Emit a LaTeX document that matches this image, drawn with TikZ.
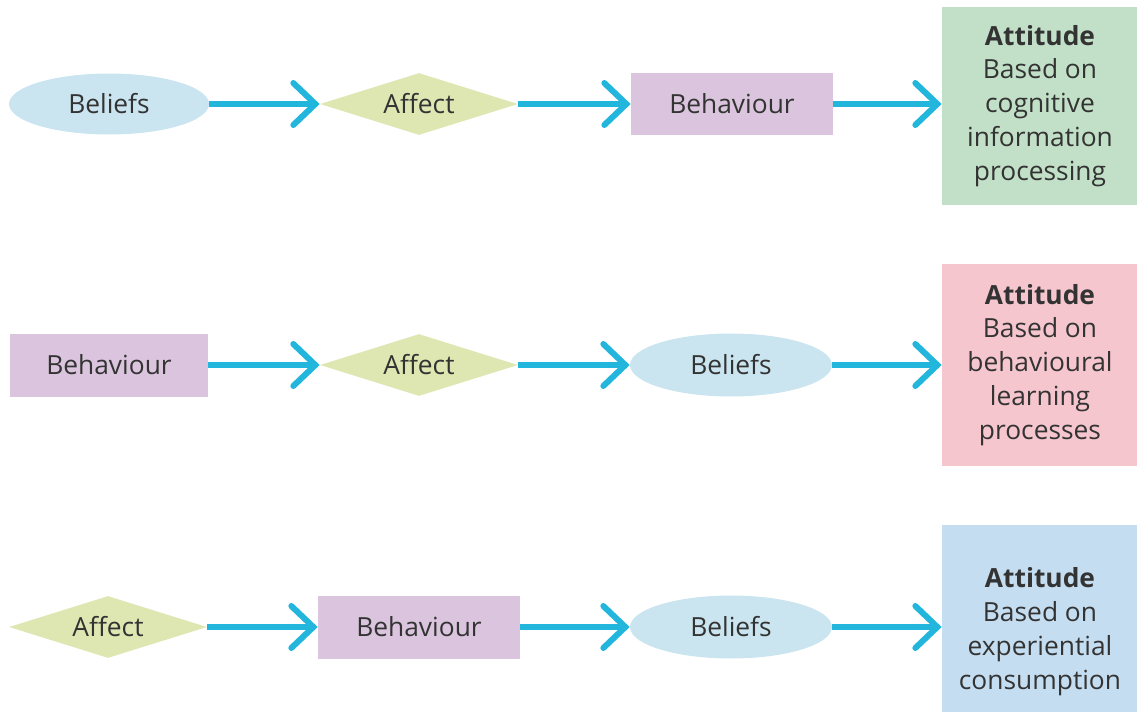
\documentclass[tikz,border=0pt]{standalone}
\usepackage{fontspec}
\setmainfont{Open Sans}
\usepackage{tikz}
\usetikzlibrary{shapes.geometric,arrows.meta}
\usepackage{xcolor}
\definecolor{flowcyan}{HTML}{22B6DC}
\definecolor{belblue}{HTML}{CAE5F0}
\definecolor{affgreen}{HTML}{DEE6B2}
\definecolor{behlilac}{HTML}{DBC5DE}
\definecolor{attgreen}{HTML}{C2E0C7}
\definecolor{attpink}{HTML}{F6C6CF}
\definecolor{attblue}{HTML}{C5DDF1}
\definecolor{txtgrey}{HTML}{333333}

\begin{document}
\begin{tikzpicture}[x=0.02cm, y=-0.02cm,
  every node/.style={font=\fontsize{15}{19.3}\selectfont, text=txtgrey},
  beliefs/.style={ellipse, fill=belblue, minimum width=4cm, minimum height=1.22cm, inner sep=0pt},
  affect/.style={diamond, fill=affgreen, aspect=3.2, minimum width=3.96cm, minimum height=1.24cm, inner sep=0pt},
  behav/.style={rectangle, fill=behlilac, minimum width=4.04cm, minimum height=1.26cm, inner sep=0pt},
  attitude/.style={rectangle, minimum width=3.92cm, minimum height=3.96cm, align=center, inner sep=0pt},
  flow/.style={-{Straight Barb[length=0.44cm, width=0.84cm, line cap=round]}, flowcyan, line width=0.12cm}]
\useasboundingbox (0,0) rectangle (1137,711);

% Cognitive route
\node[beliefs] (bel1) at (109,104) {Beliefs};
\node[affect] (aff1) at (419,104) {Affect};
\node[behav] (beh1) at (732,104) {Behaviour};
\node[attitude, fill=attgreen] (att1) at (1040,106) {\textbf{Attitude}\\Based on\\cognitive\\information\\processing};
\draw[flow] (bel1) -- (aff1);
\draw[flow] (aff1) -- (beh1);
\draw[flow] (beh1.east) -- (att1.west |- beh1.east);

% Behavioural learning route
\node[behav, minimum width=3.96cm] (beh2) at (109,365) {Behaviour};
\node[affect] (aff2) at (419,365) {Affect};
\node[beliefs, minimum width=4.04cm, minimum height=1.26cm] (bel2) at (731,365) {Beliefs};
\node[attitude, fill=attpink, minimum height=4.04cm] (att2) at (1040,365) {\textbf{Attitude}\\Based on\\behavioural\\learning\\processes};
\draw[flow] (beh2) -- (aff2);
\draw[flow] (aff2) -- (bel2);
\draw[flow] (bel2) -- (att2);

% Experiential route
\node[affect] (aff3) at (108,627) {Affect};
\node[behav] (beh3) at (419,627) {Behaviour};
\node[beliefs, minimum width=4.04cm, minimum height=1.26cm] (bel3) at (731,627) {Beliefs};
\node[attitude, fill=attblue, minimum height=4.28cm] (att3) at (1040,632) {\textbf{Attitude}\\Based on\\experiential\\consumption};
\draw[flow] (aff3) -- (beh3);
\draw[flow] (beh3) -- (bel3);
\draw[flow] (bel3.east) -- (att3.west |- bel3.east);
\end{tikzpicture}
\end{document}
